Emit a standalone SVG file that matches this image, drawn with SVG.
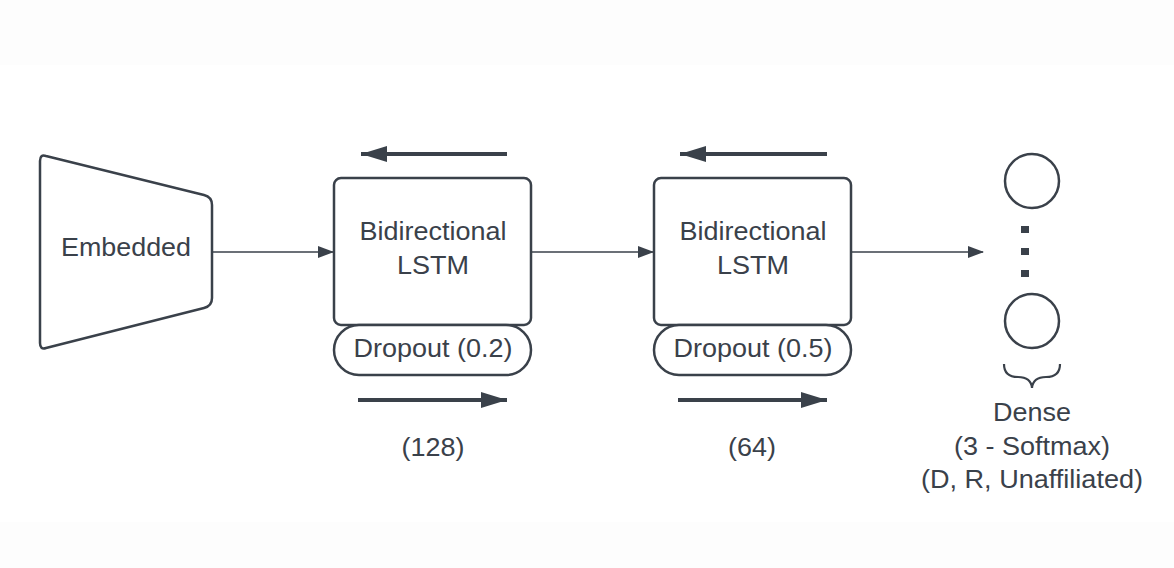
<svg xmlns="http://www.w3.org/2000/svg" width="1174" height="568" viewBox="0 0 1174 568">
<defs>
<marker id="ah" markerWidth="16" markerHeight="12" refX="15" refY="6" orient="auto" markerUnits="userSpaceOnUse">
<path d="M0,0 L16,6 L0,12 Z" fill="#3a414a"/>
</marker>
<marker id="ahb" markerWidth="26" markerHeight="16" refX="26" refY="8" orient="auto" markerUnits="userSpaceOnUse">
<path d="M0,0 L26,8 L0,16 Z" fill="#3a414a"/>
</marker>
<style>
.shape{fill:#fff;stroke:#3a414a;stroke-width:2.5;stroke-linejoin:round}
.lbl{font-family:"Liberation Sans",Arial,sans-serif;font-size:25px;fill:#3a414a;text-anchor:middle}
.conn{stroke:#3a414a;stroke-width:1.3;fill:none}
.big{stroke:#3a414a;stroke-width:4;fill:none}
</style>
</defs>
<rect x="0" y="0" width="1174" height="568" fill="#ffffff"/>
<rect x="0" y="0" width="1174" height="65" fill="#fdfdfd"/>
<rect x="0" y="522" width="1174" height="46" fill="#fdfdfd"/>

<g id="connectors">
<line class="conn" x1="213" y1="252" x2="333" y2="252" marker-end="url(#ah)"/>
<line class="conn" x1="532" y1="252" x2="653" y2="252" marker-end="url(#ah)"/>
<line class="conn" x1="852" y1="252" x2="983" y2="252" marker-end="url(#ah)"/>
<line class="big" x1="507" y1="154" x2="361" y2="154" marker-end="url(#ahb)"/>
<line class="big" x1="358" y1="400" x2="507" y2="400" marker-end="url(#ahb)"/>
<line class="big" x1="827" y1="154" x2="680" y2="154" marker-end="url(#ahb)"/>
<line class="big" x1="678" y1="400" x2="827" y2="400" marker-end="url(#ahb)"/>
</g>

<g id="embedded">
<path class="shape" d="M46,156 L204,195 Q212,197 212,205 L212,298 Q212,306 204,308 L46,348 Q40,350 40,343 L40,161 Q40,154 46,156 Z"/>
<text class="lbl" x="126" y="256" textLength="130" lengthAdjust="spacingAndGlyphs">Embedded</text>
</g>

<g id="lstm1">
<rect class="shape" x="334" y="178" width="197" height="147" rx="7"/>
<text class="lbl" x="433" y="240" textLength="147" lengthAdjust="spacingAndGlyphs">Bidirectional</text>
<text class="lbl" x="433" y="274" textLength="72" lengthAdjust="spacingAndGlyphs">LSTM</text>
</g>
<g id="dropout1">
<rect class="shape" x="334" y="325" width="197" height="50" rx="25"/>
<text class="lbl" x="433" y="357" textLength="159" lengthAdjust="spacingAndGlyphs">Dropout (0.2)</text>
</g>
<g id="units1">
<text class="lbl" x="433" y="456" textLength="63" lengthAdjust="spacingAndGlyphs">(128)</text>
</g>

<g id="lstm2">
<rect class="shape" x="654" y="178" width="197" height="147" rx="7"/>
<text class="lbl" x="753" y="240" textLength="147" lengthAdjust="spacingAndGlyphs">Bidirectional</text>
<text class="lbl" x="753" y="274" textLength="72" lengthAdjust="spacingAndGlyphs">LSTM</text>
</g>
<g id="dropout2">
<rect class="shape" x="654" y="325" width="197" height="50" rx="25"/>
<text class="lbl" x="753" y="357" textLength="159" lengthAdjust="spacingAndGlyphs">Dropout (0.5)</text>
</g>
<g id="units2">
<text class="lbl" x="752" y="456" textLength="48" lengthAdjust="spacingAndGlyphs">(64)</text>
</g>

<g id="dense">
<circle class="shape" cx="1032" cy="181" r="27"/>
<rect x="1021" y="226" width="8" height="7" fill="#3a414a"/>
<rect x="1021" y="248" width="8" height="7" fill="#3a414a"/>
<rect x="1021" y="270" width="8" height="7" fill="#3a414a"/>
<circle class="shape" cx="1032" cy="321" r="27"/>
<path d="M1004,364 Q1004,377 1018,377 Q1031,377 1032,388 Q1033,377 1046,377 Q1060,377 1060,364" fill="none" stroke="#3a414a" stroke-width="2.2"/>
<text class="lbl" x="1032" y="421" textLength="78" lengthAdjust="spacingAndGlyphs">Dense</text>
<text class="lbl" x="1032" y="455" textLength="156" lengthAdjust="spacingAndGlyphs">(3 - Softmax)</text>
<text class="lbl" x="1032" y="488" textLength="222" lengthAdjust="spacingAndGlyphs">(D, R, Unaffiliated)</text>
</g>
</svg>
